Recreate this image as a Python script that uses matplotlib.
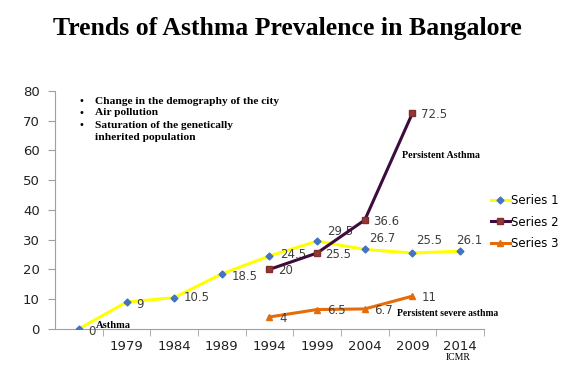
import matplotlib.pyplot as plt

categories = ['', '1979', '1984', '1989', '1994', '1999', '2004', '2009', '2014']
series1 = [0, 9, 10.5, 18.5, 24.5, 29.5, 26.7, 25.5, 26.1]
series2_idx = [4, 5, 6, 7]
series2 = [20, 25.5, 36.6, 72.5]
series3_idx = [4, 5, 6, 7]
series3 = [4, 6.5, 6.7, 11]

label_font = dict(fontsize=8.5, color='#404040', family='DejaVu Sans')
note_font = dict(fontsize=8.2, fontweight='bold', family='Liberation Serif', color='black')

fig = plt.figure(figsize=(5.74, 3.65), dpi=100)
ax = fig.add_axes([0.096, 0.099, 0.747, 0.652])

x = list(range(len(categories)))
ax.plot(x, series1, color='#FFFF00', lw=2.2, marker='D', ms=3.5,
        mfc='#4472C4', mec='#4472C4', label='Series 1', zorder=3)
ax.plot(series2_idx, series2, color='#3D0B3D', lw=2.2, marker='s', ms=5,
        mfc='#953735', mec='#7F2F2D', label='Series 2', zorder=4)
ax.plot(series3_idx, series3, color='#E46C0A', lw=2.2, marker='^', ms=5,
        mfc='#E46C0A', mec='#E46C0A', label='Series 3', zorder=3)

# data labels
s1_off = [(7, -2), (7, -2), (7, 0), (7, -2), (8, 1), (7, 7), (3, 8), (3, 9), (-3, 8)]
for i, v in enumerate(series1):
    dx, dy = s1_off[i]
    ax.annotate(f'{v:g}', (i, v), xytext=(dx, dy), textcoords='offset points',
                va='center', ha='left', **label_font)
for i, v in zip(series2_idx, series2):
    ax.annotate(f'{v:g}', (i, v), xytext=(6, -1), textcoords='offset points',
                va='center', ha='left', **label_font)
for i, v in zip(series3_idx, series3):
    ax.annotate(f'{v:g}', (i, v), xytext=(7, -1), textcoords='offset points',
                va='center', ha='left', **label_font)

ax.set_xlim(-0.5, len(categories) - 0.5)
ax.set_ylim(0, 80)
ax.set_yticks(range(0, 81, 10))
ax.set_xticks(x)
ax.set_xticklabels(categories)
ax.set_xticks([i + 0.5 for i in range(len(categories))], minor=True)
ax.tick_params(axis='x', which='major', length=0, pad=8, labelsize=9.5)
ax.tick_params(axis='x', which='minor', length=5, color='#A0A0A0', direction='out')
ax.tick_params(axis='y', length=5, color='#A0A0A0', labelsize=9.5, pad=6)
for lbl in ax.get_xticklabels() + ax.get_yticklabels():
    lbl.set_color('#222222')

for s in ['top', 'right']:
    ax.spines[s].set_visible(False)
ax.spines['left'].set_color('#A0A0A0')
ax.spines['bottom'].set_color('#A0A0A0')

fig.text(0.5, 0.922, 'Trends of Asthma Prevalence in Bangalore', ha='center', va='center',
         fontsize=18.5, fontweight='bold', family='Liberation Serif')

notes = ['Change in the demography of the city', 'Air pollution',
         'Saturation of the genetically', 'inherited population']
for k, t in enumerate(notes):
    yy = 1 - (101 + 12 * k) / 365
    if k < 3:
        fig.text(78 / 574, yy, '•', va='center', ha='left', fontsize=7, family='DejaVu Sans')
    fig.text(95 / 574, yy, t, va='center', ha='left', **note_font)

fig.text(402 / 574, 1 - 156 / 365, 'Persistent Asthma', va='center', ha='left',
         fontsize=7.2, fontweight='bold', family='Liberation Serif')
fig.text(397 / 574, 1 - 314 / 365, 'Persistent severe asthma', va='center', ha='left',
         fontsize=6.9, fontweight='bold', family='Liberation Serif')
fig.text(96 / 574, 1 - 326 / 365, 'Asthma', va='center', ha='left',
         fontsize=7.6, fontweight='bold', family='Liberation Serif')
fig.text(458 / 574, 1 - 357 / 365, 'ICMR', va='center', ha='center',
         fontsize=7, family='Liberation Serif')

ax.legend(loc='center left', bbox_to_anchor=(486 / 574, 1 - 222 / 365),
          bbox_transform=fig.transFigure, frameon=False, fontsize=8.5,
          handlelength=1.6, handletextpad=0.1, labelspacing=0.7, borderaxespad=0)

plt.savefig('out.png', dpi=100)
plt.close()
